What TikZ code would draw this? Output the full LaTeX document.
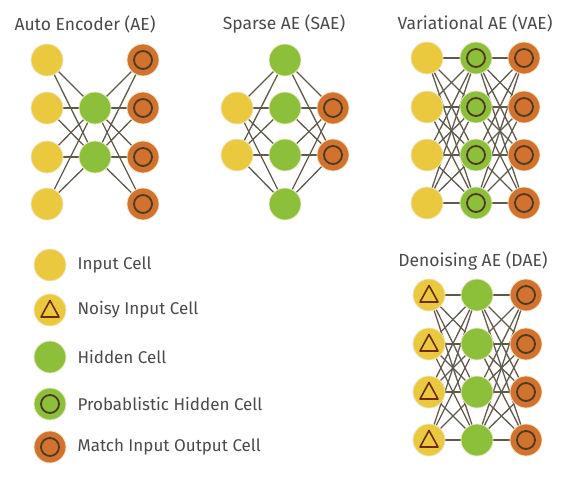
\documentclass[tikz,border=0pt]{standalone}
\usepackage{fontspec}
\setmainfont{Fira Sans}
\pgfdeclarelayer{paper}
\pgfdeclarelayer{bg}
\pgfsetlayers{paper,bg,main}
\definecolor{cin}{HTML}{EBC93F}
\definecolor{chid}{HTML}{8DC03A}
\definecolor{cout}{HTML}{D2722F}
\definecolor{cring}{HTML}{4F3A1E}
\definecolor{ctri}{HTML}{6E2A14}
\definecolor{cedge}{HTML}{615A4B}
\definecolor{crim}{HTML}{EDE6C8}
\definecolor{ctext}{HTML}{4A4A4A}
\tikzset{
  cell/.style={circle,minimum size=32pt,inner sep=0pt,draw=crim,line width=0.8pt},
  incell/.style={cell,fill=cin},
  hidcell/.style={cell,fill=chid},
  outcell/.style={cell,fill=cout,path picture={\draw[cring,line width=1.8pt] (path picture bounding box.center) circle (9pt);}},
  probcell/.style={cell,fill=chid,path picture={\draw[cring,line width=1.8pt] (path picture bounding box.center) circle (9pt);}},
  noisycell/.style={cell,fill=cin,path picture={\draw[ctri,line width=1.6pt,line join=round] ([shift={(-9pt,-7pt)}]path picture bounding box.center) -- ([shift={(9pt,-7pt)}]path picture bounding box.center) -- ([shift={(0pt,9.5pt)}]path picture bounding box.center) -- cycle;}},
  conn/.style={draw=cedge,line width=1.3pt},
  title/.style={font=\fontsize{17.5}{20}\selectfont,text=ctext},
  legtext/.style={font=\fontsize{17}{20}\selectfont,text=ctext,anchor=west},
}
\begin{document}
\begin{tikzpicture}[x=1pt,y=-1pt]
\begin{pgfonlayer}{paper}
\fill[white] (0,0) rectangle (577,480);
\end{pgfonlayer}
\useasboundingbox (0,0) rectangle (577,480);
% ---------- titles
\node[title] (tAE) at (85,24) {Auto Encoder (AE)};
\node[title] (tSAE) at (284,24) {Sparse AE (SAE)};
\node[title] (tVAE) at (475,23) {Variational AE (VAE)};
\node[title] (tDAE) at (473,261) {Denoising AE (DAE)};
% ---------- AE
\foreach \i/\y in {1/60,2/108,3/157,4/204}{
  \node[incell] (ae-i\i) at (47,\y) {};
  \node[outcell] (ae-o\i) at (143,\y) {};
}
\node[hidcell] (ae-h1) at (95,108) {};
\node[hidcell] (ae-h2) at (95,157) {};
% ---------- SAE
\foreach \i/\y in {1/60,2/108,3/155,4/204}{
  \node[hidcell] (sae-h\i) at (285,\y) {};
}
\node[incell] (sae-i1) at (237,108) {};
\node[incell] (sae-i2) at (237,155) {};
\node[outcell] (sae-o1) at (333,108) {};
\node[outcell] (sae-o2) at (333,155) {};
% ---------- VAE
\foreach \i/\y in {1/58,2/107,3/155,4/203}{
  \node[incell] (vae-i\i) at (427,\y) {};
  \node[probcell] (vae-h\i) at (476,\y) {};
  \node[outcell] (vae-o\i) at (524,\y) {};
}
% ---------- DAE
\foreach \i/\y in {1/295,2/344,3/392,4/440}{
  \node[noisycell] (dae-i\i) at (429,\y) {};
  \node[hidcell] (dae-h\i) at (477,\y) {};
  \node[outcell] (dae-o\i) at (526,\y) {};
}
% ---------- connections (behind the cells)
\begin{pgfonlayer}{bg}
\foreach \a in {1,...,4}{\foreach \b in {1,2}{
  \draw[conn] (ae-i\a.center) -- (ae-h\b.center);
  \draw[conn] (ae-h\b.center) -- (ae-o\a.center);
}}
\foreach \a in {1,2}{\foreach \b in {1,...,4}{
  \draw[conn] (sae-i\a.center) -- (sae-h\b.center);
  \draw[conn] (sae-h\b.center) -- (sae-o\a.center);
}}
\foreach \a in {1,...,4}{\foreach \b in {1,...,4}{
  \draw[conn] (vae-i\a.center) -- (vae-h\b.center);
  \draw[conn] (vae-h\b.center) -- (vae-o\a.center);
  \draw[conn] (dae-i\a.center) -- (dae-h\b.center);
  \draw[conn] (dae-h\b.center) -- (dae-o\a.center);
}}
\end{pgfonlayer}
% ---------- legend
\node[incell] (l1) at (50,265) {};
\node[noisycell] (l2) at (50,310) {};
\node[hidcell] (l3) at (50,357) {};
\node[probcell] (l4) at (50,404) {};
\node[outcell] (l5) at (50,447) {};
\node[legtext] (lt1) at (74,265) {Input Cell};
\node[legtext] (lt2) at (74,310) {Noisy Input Cell};
\node[legtext] (lt3) at (74,357) {Hidden Cell};
\node[legtext] (lt4) at (74,404) {Probablistic Hidden Cell};
\node[legtext] (lt5) at (74,447) {Match Input Output Cell};
\end{tikzpicture}
\end{document}
